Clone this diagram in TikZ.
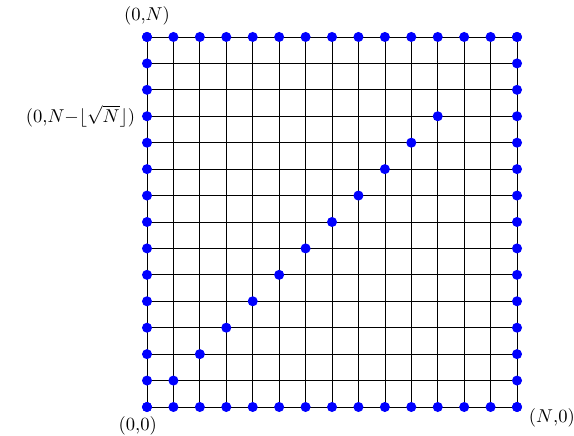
\documentclass[tikz,border=0pt]{standalone}
\usepackage{tikz}
\usetikzlibrary{positioning,calc}

\begin{document}
\begin{tikzpicture}[
  x=0.5cm, y=0.5cm,
  titik/.style={circle, fill=blue, inner sep=0pt, minimum size=5.4pt},
  garis/.style={draw=black, line width=0.4pt},
  teks/.style={inner sep=3.3pt}
]
  \useasboundingbox (-5.562,-1.097) rectangle (16.156,15.399);
  \draw[garis, step=0.5cm] (0,0) grid (14,14);
  % titik pada tepi
  \foreach \i in {0,...,14} {
    \node[titik] (b\i) at (\i,0) {};
    \node[titik] (t\i) at (\i,14) {};
    \node[titik] (l\i) at (0,\i) {};
    \node[titik] (r\i) at (14,\i) {};
  }
  % titik diagonal
  \foreach \i in {1,...,11}
    \node[titik] (d\i) at (\i,\i) {};
  \node[teks, above=0pt of t0] (lbtop) {$(0{,}N)$};
  \node[teks, left=0pt of l11] (lbmid) {$(0{,}N{-}\lfloor\sqrt{N}\rfloor)$};
  \node[teks, below=-1pt of b0, xshift=-5pt] (lbori) {$(0{,}0)$};
  \node[teks, right=0pt of r0, yshift=-6pt] (lbn) {$(N{,}0)$};
\end{tikzpicture}
\end{document}
